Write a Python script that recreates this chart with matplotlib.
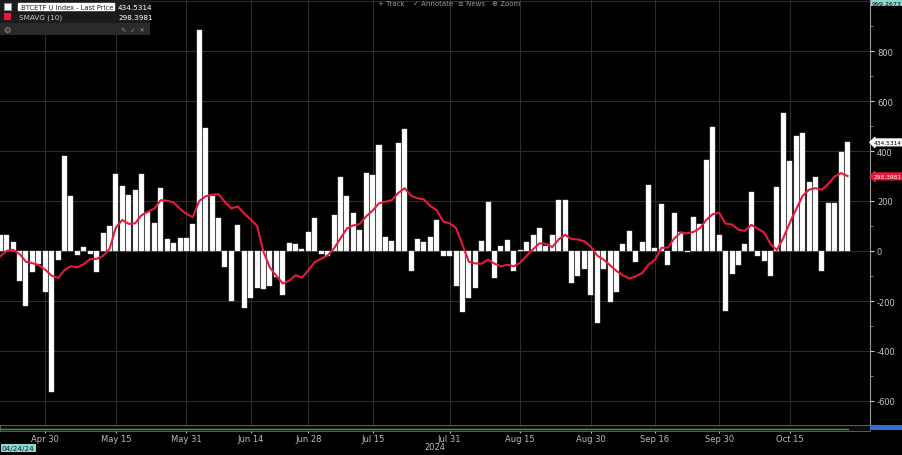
import numpy as np
import pandas as pd
import matplotlib
matplotlib.use("Agg")
import matplotlib.pyplot as plt
from matplotlib.patches import Rectangle

# trading days shown (US market holidays removed)
holidays = ["2024-05-27", "2024-06-19", "2024-07-04", "2024-09-02"]
dates = pd.bdate_range("2024-04-19", "2024-10-28", freq="C", holidays=holidays)

# daily values, Apr 19 .. Oct 28
flows = [
    64, 64, 35, -121, -219, -85, -52, -163,
    -563, -37, 379, 219, -16, 15, -13, -85, 71, 101, 307, 261, 224, 243, 307,
    155, 112, 253, 48, 31, 52, 52,
    109, 885, 491, 221, 132, -65, -201, 104, -227, -189, -147, -152, -139,
    -105, -176, 33, 27, 9, 75,
    133, -13, -20, 145, 297, 220, 151, 84, 313, 304, 424, 57, 40, 431, 488,
    -79, 48, 35, 55, 125, -19, -19,
    -139, -245, -189, -149, 39, 196, -107, 21, 43, -81, 3, 37, 65, 91, 21,
    63, 204, 204, -128, -99, -73, -177,
    -288, -72, -204, -165, 29, 79, -45, 37, 265, 13, 188, -56, 152, 77, -3,
    135, 108, 364, 497, 64,
    -241, -92, -56, 28, 237, -19, -40, -101, 257, 552, 360, 459, 472, 275,
    297, -80, 192, 192, 397, 435,
]
# SMAVG(10) for the first nine days (needs history before the window)
sma_head = [-21, 1, 5, -12, -43, -49, -56, -75, -99]

tick_dates = ["2024-04-30", "2024-05-15", "2024-05-31", "2024-06-14",
              "2024-06-28", "2024-07-15", "2024-07-31", "2024-08-15",
              "2024-08-30", "2024-09-16", "2024-09-30", "2024-10-15"]
tick_labels = ["Apr 30", "May 15", "May 31", "Jun 14", "Jun 28", "Jul 15",
               "Jul 31", "Aug 15", "Aug 30", "Sep 16", "Sep 30", "Oct 15"]
last_price = 434.5314
last_sma = 298.3981

s = pd.Series(flows, index=dates)
sma = s.rolling(10).mean()
sma.iloc[:9] = sma_head
x = np.arange(len(dates))
tick_pos = [dates.get_loc(pd.Timestamp(d)) for d in tick_dates]

W, H = 903, 456
fig = plt.figure(figsize=(W / 100, H / 100), dpi=100, facecolor="black")

def fx(px):
    return px / W

def fy(py):
    return 1 - py / H

ax = fig.add_axes([0, fy(426), fx(870), 426 / H])
ax.set_facecolor("black")
ax.bar(x, s.values, width=0.78, color="white", edgecolor="#d8d8d8", linewidth=0.3, zorder=3)
ax.plot(x, sma.values, color="#e8193c", lw=1.5, zorder=4)
ax.set_xlim(-0.05, 135.5)
ax.set_ylim(-696, 1008)

ax.set_xticks(tick_pos)
ax.set_xticklabels([])
ax.tick_params(axis="x", length=0)
ax.yaxis.tick_right()
ax.set_yticks(np.arange(-600, 1001, 200))
ax.set_yticklabels([str(v) if v < 1000 else "" for v in range(-600, 1001, 200)])
ax.set_yticks(np.arange(-600, 1001, 100), minor=True)
ax.tick_params(axis="y", colors="#c8c8c8", labelsize=6, length=3, width=0.8, pad=2)
ax.tick_params(axis="y", which="minor", length=2, color="#888888")
ax.grid(True, color="#2c2c2c", lw=0.8, zorder=0)
for side in ["top", "left", "bottom"]:
    ax.spines[side].set_visible(False)
ax.spines["right"].set_color("#9a9a9a")
ax.spines["right"].set_linewidth(0.8)

# navigator strip with the date labels
nav = fig.add_axes([0, fy(432), fx(870), 6 / H])
nav.set_facecolor("#0c0c0c")
nav.set_xlim(ax.get_xlim())
nav.set_ylim(0, 1)
nav.plot([0, 132], [0.4, 0.4], color="#3f9a3f", lw=1.0)
nav.set_yticks([])
nav.set_xticks(tick_pos)
nav.set_xticklabels(tick_labels)
nav.tick_params(axis="x", colors="#bdbdbd", labelsize=6, length=1.5, pad=0.5)
for sp in nav.spines.values():
    sp.set_color("#6a6a6a")
    sp.set_linewidth(0.6)
fig.text(fx(435), fy(448), "2024", color="#bdbdbd", fontsize=6, ha="center", va="center")

# right-hand value tags
ax.annotate(f"{last_price:.4f}", xy=(1.0, last_price), xycoords=("axes fraction", "data"),
            xytext=(2.5, 0), textcoords="offset points", fontsize=4.2, color="black",
            va="center", ha="left",
            bbox=dict(boxstyle="larrow,pad=0.15", fc="white", ec="white"))
ax.annotate(f"{last_sma:.4f}", xy=(1.0, last_sma), xycoords=("axes fraction", "data"),
            xytext=(2.5, 0), textcoords="offset points", fontsize=4.2, color="white",
            va="center", ha="left",
            bbox=dict(boxstyle="larrow,pad=0.15", fc="#e8193c", ec="#e8193c"))
fig.text(fx(872), fy(4), "999.2673", color="black", fontsize=4.5, va="center", ha="left",
         bbox=dict(boxstyle="square,pad=0.12", fc="#8fd8d2", ec="none"))
fig.patches.append(Rectangle((fx(870), fy(431)), fx(33), 5 / H, transform=fig.transFigure,
                             fc="#2f6fd8", ec="none"))
fig.text(fx(2), fy(449), "04/24/24", color="#0b2a2a", fontsize=5.2, va="center", ha="left",
         bbox=dict(boxstyle="square,pad=0.12", fc="#8fd8d2", ec="none"))

# legend panel top left
fig.patches.append(Rectangle((0, fy(36)), fx(150), 36 / H, transform=fig.transFigure,
                             fc="#1b1b1b", ec="none", zorder=5))
fig.patches.append(Rectangle((0, fy(36)), fx(150), 12 / H, transform=fig.transFigure,
                             fc="#2a2a2a", ec="none", zorder=5))
fig.patches.append(Rectangle((fx(4), fy(11)), fx(7), 7 / H, transform=fig.transFigure,
                             fc="white", ec="#999999", lw=0.5, zorder=6))
fig.patches.append(Rectangle((fx(4), fy(21)), fx(7), 7 / H, transform=fig.transFigure,
                             fc="#e8193c", ec="none", zorder=6))
fig.text(fx(19), fy(7.5), ".BTCETF U Index - Last Price", color="#222222", fontsize=4.9,
         va="center", ha="left", zorder=7,
         bbox=dict(boxstyle="square,pad=0.12", fc="white", ec="white"))
fig.text(fx(118), fy(7.5), f"{last_price:.4f}", color="white", fontsize=5.2,
         va="center", ha="left", zorder=7)
fig.text(fx(19), fy(17.5), "SMAVG (10)", color="#cccccc", fontsize=5.2,
         va="center", ha="left", zorder=7)
fig.text(fx(118), fy(17.5), f"{last_sma:.4f}", color="white", fontsize=5.2,
         va="center", ha="left", zorder=7)
fig.text(fx(3), fy(30), "\u2699", color="#999999", fontsize=6, va="center", ha="left", zorder=7)
fig.text(fx(121), fy(30), "\u270e  \u2713  \u2715", color="#999999", fontsize=4.5,
         va="center", ha="left", zorder=7)

# toolbar top centre
for px, label in [(378, "+ Track"), (413, "\u2713 Annotate"), (458, "\u2261 News"), (492, "\u2295 Zoom")]:
    fig.text(fx(px), fy(3.5), label, color="#9a9a9a", fontsize=5, va="center", ha="left")

fig.savefig("out.png", dpi=100, facecolor="black")
